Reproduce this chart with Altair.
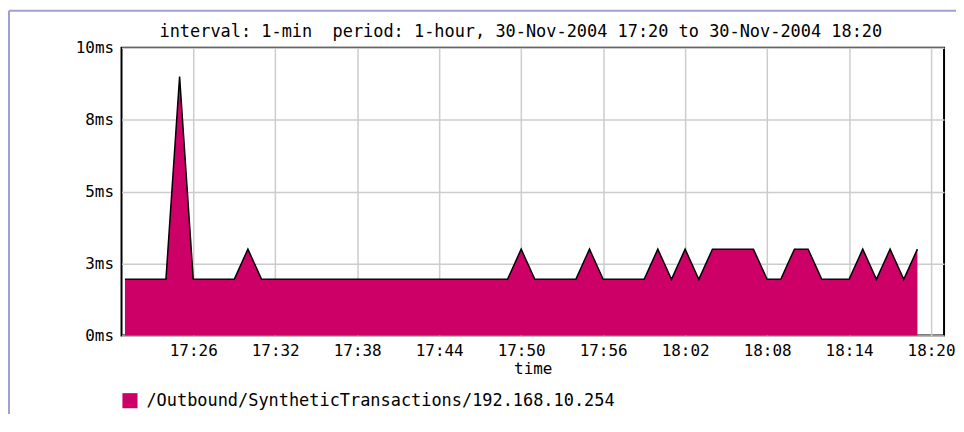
import altair as alt
import pandas as pd

times = ["17:21", "17:22", "17:23", "17:24", "17:25", "17:26", "17:27", "17:28", "17:29", "17:30",
         "17:31", "17:32", "17:33", "17:34", "17:35", "17:36", "17:37", "17:38", "17:39", "17:40",
         "17:41", "17:42", "17:43", "17:44", "17:45", "17:46", "17:47", "17:48", "17:49", "17:50",
         "17:51", "17:52", "17:53", "17:54", "17:55", "17:56", "17:57", "17:58", "17:59", "18:00",
         "18:01", "18:02", "18:03", "18:04", "18:05", "18:06", "18:07", "18:08", "18:09", "18:10",
         "18:11", "18:12", "18:13", "18:14", "18:15", "18:16", "18:17", "18:18", "18:19"]
values_ms = [1.95, 1.95, 1.95, 1.95, 9.0, 1.95, 1.95, 1.95, 1.95, 3.0,
             1.95, 1.95, 1.95, 1.95, 1.95, 1.95, 1.95, 1.95, 1.95, 1.95,
             1.95, 1.95, 1.95, 1.95, 1.95, 1.95, 1.95, 1.95, 1.95, 3.0,
             1.95, 1.95, 1.95, 1.95, 3.0, 1.95, 1.95, 1.95, 1.95, 3.0,
             1.95, 3.0, 1.95, 3.0, 3.0, 3.0, 3.0, 1.95, 1.95, 3.0,
             3.0, 1.95, 1.95, 1.95, 3.0, 1.95, 3.0, 1.95, 3.0]
series_name = "/Outbound/SyntheticTransactions/192.168.10.254"
x_tick_labels = ["17:26", "17:32", "17:38", "17:44", "17:50", "17:56", "18:02", "18:08", "18:14", "18:20"]
y_ticks = [0, 2.5, 5, 7.5, 10]
title_text = "interval: 1-min\u00a0 period: 1-hour, 30-Nov-2004 17:20 to 30-Nov-2004 18:20"


def to_min(s):
    h, m = s.split(":")
    return int(h) * 60 + int(m)


df = pd.DataFrame({
    "t": [to_min(s) for s in times],
    "v": values_ms,
    "series": [series_name] * len(times),
})

FONT = "DejaVu Sans Mono"
FS = 16
FS_BIG = 17
FILL = "#cc0066"
x_values = [to_min(s) for s in x_tick_labels]
x_domain = [to_min("17:20") + 0.75, to_min("18:20") + 0.95]

x_enc = alt.X("t:Q", scale=alt.Scale(domain=x_domain, nice=False, zero=False),
              axis=alt.Axis(values=x_values, title="time",
                            labelExpr="floor(datum.value/60) + ':' + format(datum.value % 60, '02d')",
                            grid=True, gridColor="#cccccc", gridWidth=1.5,
                            ticks=False, domain=False, labelPadding=7,
                            labelFont=FONT, labelFontSize=FS, labelColor="black",
                            titleFont=FONT, titleFontSize=FS, titleFontWeight="normal",
                            titleColor="black", titlePadding=2, labelFlush=False))
y_enc = alt.Y("v:Q", scale=alt.Scale(domain=[0, 10], nice=False),
              axis=alt.Axis(values=y_ticks, title=None,
                            labelExpr="format(datum.value, '.0f') + 'ms'",
                            grid=True, gridColor="#cccccc", gridWidth=1.5,
                            ticks=False, domain=False, labelPadding=8,
                            labelFont=FONT, labelFontSize=FS, labelColor="black"))

area = alt.Chart(df).mark_area(opacity=1, interpolate="linear").encode(
    x=x_enc,
    y=y_enc,
    color=alt.Color("series:N", scale=alt.Scale(range=[FILL]),
                    legend=alt.Legend(title=None, orient="none", legendX=0, legendY=346,
                                      symbolType="square", symbolSize=230,
                                      symbolStrokeWidth=0, symbolFillColor=FILL,
                                      symbolOpacity=1,
                                      labelFont=FONT, labelFontSize=FS_BIG, labelColor="black",
                                      labelLimit=800, labelOffset=8)),
)

line = alt.Chart(df).mark_line(color="black", strokeWidth=1.5, interpolate="linear").encode(
    x="t:Q", y="v:Q")

frame_df = pd.DataFrame({"a": [0]})
frame_top = alt.Chart(frame_df).mark_rule(color="#9f9fd6", strokeWidth=2).encode(
    x=alt.value(-113), x2=alt.value(850), y=alt.value(-37))
frame_left = alt.Chart(frame_df).mark_rule(color="#9f9fd6", strokeWidth=2).encode(
    x=alt.value(-113), y=alt.value(-37), y2=alt.value(370))
title = alt.Chart(frame_df).mark_text(
    font=FONT, fontSize=FS_BIG, color="black", align="center", baseline="middle"
).encode(x=alt.value(401), y=alt.value(-16), text=alt.value(title_text))

chart = alt.layer(frame_top, frame_left, area, line, title).properties(
    width=826, height=289,
    padding={"left": 114, "top": 39, "right": 12, "bottom": 78},
    autosize=alt.AutoSizeParams(type="none"),
).configure(background="white").configure_view(stroke="black", strokeWidth=2)

chart.save("out.html", embed_options={"renderer": "svg", "actions": False})
